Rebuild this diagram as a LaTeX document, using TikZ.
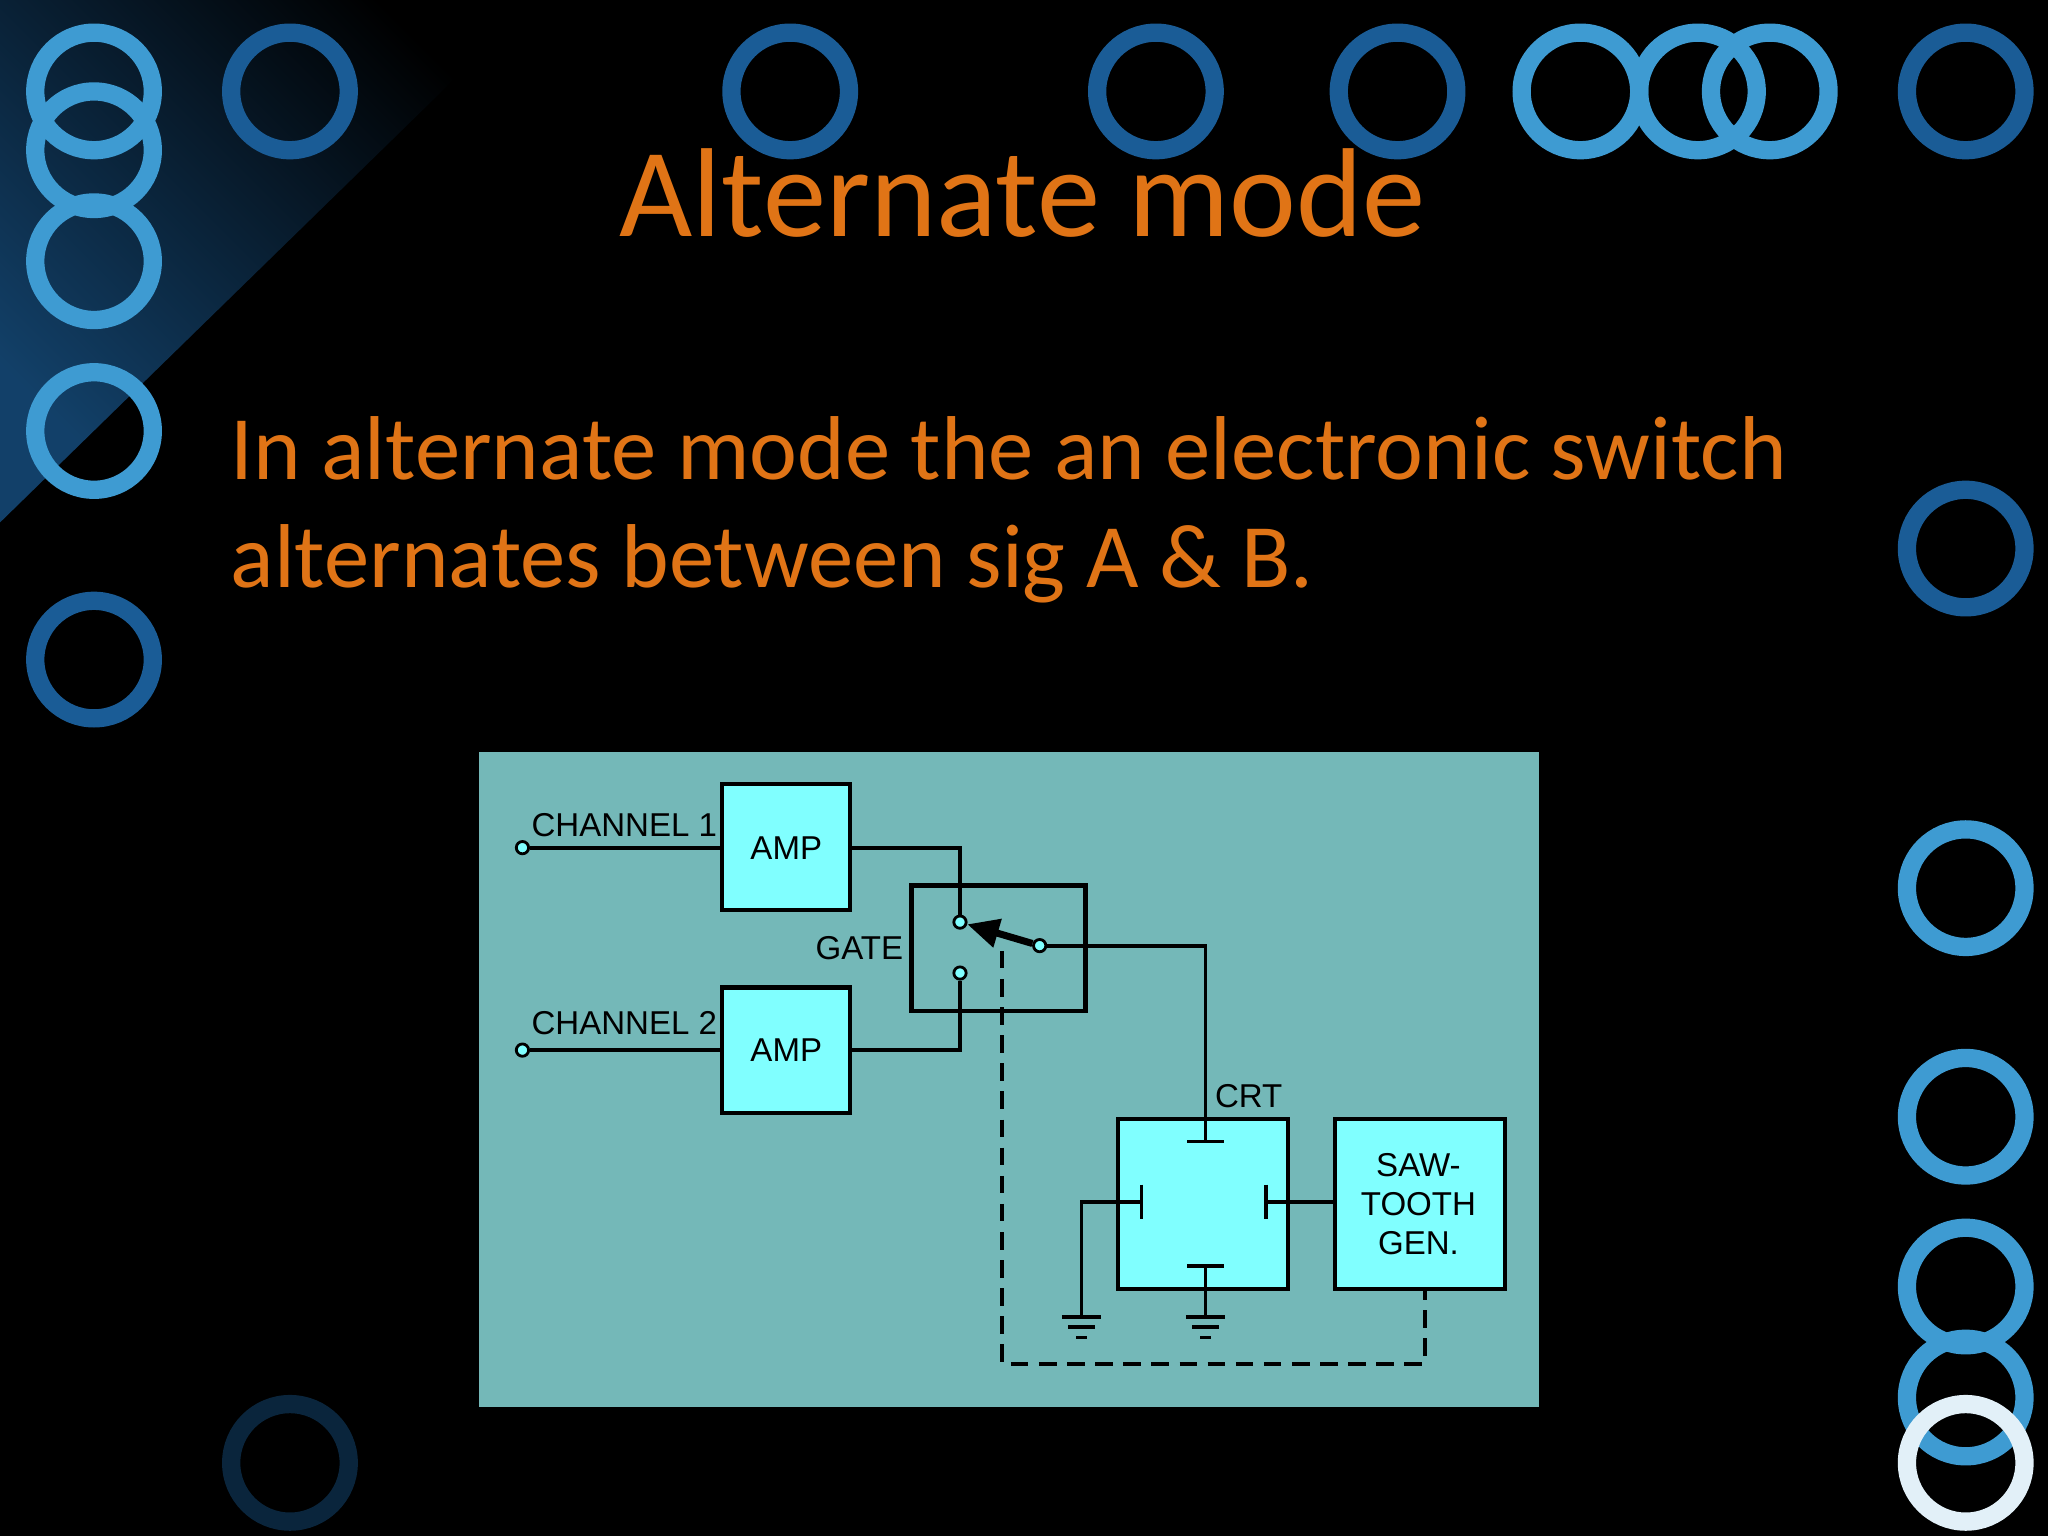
\documentclass[tikz,border=0pt]{standalone}
\usepackage{fontspec}
\setmainfont{Carlito}
\newfontfamily\arialf{Liberation Sans}
\usetikzlibrary{arrows.meta}
\definecolor{org}{HTML}{E07416}
\definecolor{panel}{HTML}{74B8B8}
\definecolor{boxc}{HTML}{80FFFF}
\definecolor{ringd}{HTML}{1A5C96}
\definecolor{ringl}{HTML}{3E9BD2}
\tikzset{
 ring/.style={draw=ringl,line width=5.2pt},
 ringdk/.style={draw=ringd,line width=5.2pt},
 blk/.style={draw=black,fill=boxc,line width=1.2pt},
 wire/.style={draw=black,line width=1.1pt},
 term/.style={circle,draw=black,fill=boxc,line width=0.8pt,inner sep=0pt,minimum size=3.5pt},
 lab/.style={font=\arialf\fontsize{9.4}{11}\selectfont,inner sep=0pt},
 gnd/.style={wire}
}
\begin{document}
\begin{tikzpicture}[x=0.013061cm,y=-0.013061cm]
\useasboundingbox (0,0) rectangle (1568,1176);
\fill[black] (0,0) rectangle (1568,1176);
\shade[left color=ringd!70!black, right color=black, shading angle=135] (0,0) -- (410,0) -- (0,400) -- cycle;
% rings
\foreach \x/\y in {222/70,605/70,885/70,1070/70,1505/70,72/505,1505/420}
  \draw[ringdk] (\x,\y) circle (45);
\foreach \x/\y in {72/70,72/115,72/200,72/330,1210/70,1300/70,1355/70,1505/680,1505/855,1505/985,1505/1070}
  \draw[ring] (\x,\y) circle (45);
\draw[draw=white!85!ringl,line width=5.2pt] (1505,1120) circle (45);
\draw[draw=ringd!40!black,line width=5.2pt] (222,1120) circle (45);
% texts
\node[text=org,font=\fontsize{36}{40}\selectfont] (title) at (783,148) {Alternate mode};
\node[text=org,font=\fontsize{25.8}{31}\selectfont,anchor=north west,align=left,inner sep=0pt] (body) at (176,318)
 {In alternate mode the an electronic switch\\ alternates between sig A \& B.};
% panel
\fill[panel] (367,576) rectangle (1178,1077);
\draw[blk] (553,600) rectangle (651,697);
\draw[blk] (553,756) rectangle (651,852);
\draw[blk] (856,857) rectangle (986,987);
\draw[blk] (1022,857) rectangle (1152,987);
\draw[wire,line width=1.3pt] (698,678) rectangle (831,774);
\node[lab] (a1) at (602,649) {AMP};
\node[lab] (a2) at (602,804) {AMP};
\node[lab,align=center] (saw) at (1086,922) {SAW-\\TOOTH\\GEN.};
\node[lab] (c1) at (478,632) {CHANNEL 1};
\node[lab] (c2) at (478,783) {CHANNEL 2};
\node[lab,anchor=east] (gate) at (692,726) {GATE};
\node[lab] (crt) at (956,839) {CRT};
% terminals
\node[term] (in1) at (400,649) {};
\node[term] (in2) at (400,804) {};
\node[term] (s1) at (735,706) {};
\node[term] (s2) at (735,745) {};
\node[term] (sp) at (796,724) {};
\coordinate (tp) at (923,874);
\draw[wire] (in1) -- (553,649);
\draw[wire] (in2) -- (553,804);
\draw[wire] (651,649) -| (s1);
\draw[wire] (651,804) -| (s2);
\draw[wire] (sp) -- (923,724) -- (tp);
\draw[black,line width=2pt,-{Triangle[length=9pt,width=8pt]}] (sp) -- (s1);
% plates
\draw[wire] (909,874) -- (937,874);
\draw[wire] (874,907) -- (874,933);
\draw[wire] (969,907) -- (969,933);
\draw[wire] (909,969) -- (937,969);
\draw[wire] (874,920) -- (828,920) -- (828,1008);
\draw[wire] (969,920) -- (1022,920);
\draw[wire] (923,969) -- (923,1008);
\foreach \g in {828,923}{
 \draw[wire] (\g-15,1008) -- (\g+15,1008);
 \draw[wire] (\g-10,1016) -- (\g+10,1016);
 \draw[wire] (\g-4,1024) -- (\g+4,1024);
}
\draw[wire,dashed,dash pattern=on 5pt off 3pt] (767,728) -- (767,1044) -- (1091,1044) -- (1091,987);
\end{tikzpicture}
\end{document}
